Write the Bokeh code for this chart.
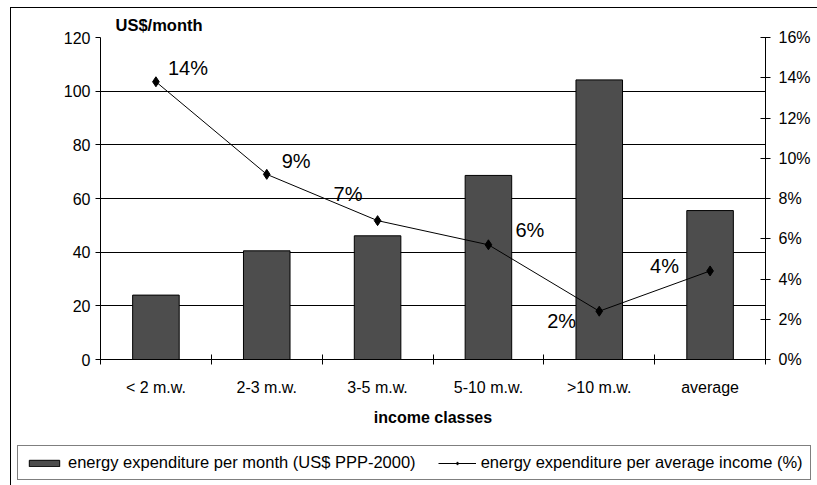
from bokeh.plotting import figure
from bokeh.layouts import column
from bokeh.models import (Range1d, LinearAxis, FixedTicker, ColumnDataSource, LabelSet,
                          Legend, LegendItem, PrintfTickFormatter)
from bokeh.core.properties import value
from bokeh.embed import file_html
from bokeh.resources import INLINE

categories = ["< 2 m.w.", "2-3 m.w.", "3-5 m.w.", "5-10 m.w.", ">10 m.w.", "average"]
expenditure = [24.0, 40.5, 46.1, 68.6, 104.2, 55.5]
share_pct = [13.8, 9.2, 6.9, 5.7, 2.4, 4.4]
share_labels = ["14%", "9%", "7%", "6%", "2%", "4%"]
series_names = ["energy expenditure per month (US$ PPP-2000)",
                "energy expenditure per average income (%)"]

# label offsets (style, px)
lab_dx = [12, 15, -44, 27, -52, -60]
lab_dy = [14, 13, 27, 15, -10, 5]

FONT = "Liberation Sans"
BAR_FILL = "#4d4d4d"
x = [i + 0.5 for i in range(len(categories))]

p = figure(frame_width=664, frame_height=321, output_backend="svg", toolbar_location=None,
           x_range=Range1d(0, len(categories)), y_range=Range1d(0, 120),
           min_border_left=89, min_border_right=53, min_border_top=29, min_border_bottom=82)
p.frame_align = False
p.styles = {"margin-left": "10px", "margin-top": "7px",
            "border-left": "1px solid black", "border-top": "1px solid black"}
p.outline_line_color = None
p.background_fill_color = "white"
p.border_fill_color = "white"

p.title.text = "US$/month"
p.title.text_font = FONT
p.title.text_font_size = "16.5px"
p.title.text_font_style = "bold"
p.title.text_color = "black"
p.title.offset = 15
p.title.standoff = 7

p.extra_y_ranges = {"pct": Range1d(0, 16)}

p.vbar(x=x, top=expenditure, width=0.42, fill_color=BAR_FILL, line_color="black", line_width=1)
p.line(x=x, y=share_pct, y_range_name="pct", line_color="black", line_width=1)
p.scatter(x=x, y=share_pct, y_range_name="pct", marker="diamond", size=10,
          fill_color="black", line_color="black")

src = ColumnDataSource(dict(x=x, y=share_pct, t=share_labels, dx=lab_dx, dy=lab_dy))
p.add_layout(LabelSet(x="x", y="y", text="t", source=src, y_range_name="pct",
                      x_offset="dx", y_offset="dy", text_font=value(FONT), text_font_size="20px",
                      text_baseline="middle", text_align="left", text_color="black"))

# grid
p.xgrid.grid_line_color = None
p.ygrid.grid_line_color = "black"
p.ygrid.grid_line_width = 1
p.ygrid.ticker = FixedTicker(ticks=list(range(0, 121, 20)))

# left axis
ya = p.yaxis[0]
ya.ticker = FixedTicker(ticks=list(range(0, 121, 20)))
ya.minor_tick_line_color = None
ya.major_tick_in = 0
ya.major_tick_out = 5
ya.axis_line_color = "black"
ya.major_label_text_font = FONT
ya.major_label_text_font_size = "16px"
ya.major_label_text_color = "black"
ya.major_label_standoff = 5

# right axis
ra = LinearAxis(y_range_name="pct", ticker=FixedTicker(ticks=list(range(0, 17, 2))),
                formatter=PrintfTickFormatter(format="%d%%"))
ra.minor_tick_line_color = None
ra.major_tick_in = 5
ra.major_tick_out = 5
ra.major_label_text_font = FONT
ra.major_label_text_font_size = "16px"
ra.major_label_text_color = "black"
ra.major_label_standoff = 8
p.add_layout(ra, "right")

# x axis
xa = p.xaxis[0]
xa.ticker = FixedTicker(ticks=x, minor_ticks=list(range(0, len(categories) + 1)))
xa.major_label_overrides = {xx: c for xx, c in zip(x, categories)}
xa.major_tick_line_color = None
xa.major_tick_in = 0
xa.major_tick_out = 5
xa.minor_tick_in = 5
xa.minor_tick_out = 5
xa.minor_tick_line_color = "black"
xa.major_label_text_font = FONT
xa.major_label_text_font_size = "16px"
xa.major_label_text_color = "black"
xa.major_label_standoff = 14
xa.axis_label = "income classes"
xa.axis_label_text_font = FONT
xa.axis_label_text_font_size = "16px"
xa.axis_label_text_font_style = "bold"
xa.axis_label_text_color = "black"
xa.axis_label_standoff = 10

# legend strip (separate canvas so the legend can extend beyond the plot frame)
q = figure(width=806, height=45, output_backend="svg", toolbar_location=None,
           x_range=Range1d(1000, 1001), y_range=Range1d(1000, 1001),
           x_axis_location=None, y_axis_location=None,
           min_border_left=0, min_border_right=0, min_border_top=0, min_border_bottom=0)
q.frame_align = False
q.styles = {"margin-left": "10px", "border-left": "1px solid black"}
q.outline_line_color = None
q.grid.grid_line_color = None
q.background_fill_color = "white"
q.border_fill_color = "white"
lb = q.vbar(x=x, top=expenditure, width=0.42, fill_color=BAR_FILL, line_color="black", line_width=1)
ll = q.line(x=x, y=share_pct, line_color="black", line_width=1)
lp = q.scatter(x=x, y=share_pct, marker="diamond", size=10, fill_color="black", line_color="black")

legend = Legend(items=[LegendItem(label=series_names[0], renderers=[lb]),
                       LegendItem(label=series_names[1], renderers=[ll, lp])],
                orientation="horizontal", location=(6, 5),
                label_text_font=FONT, label_text_font_size="16.5px", label_text_color="black",
                border_line_color="black", border_line_width=1, glyph_width=38, glyph_height=8,
                padding=7, spacing=22, label_standoff=5, margin=0, label_height=12)
q.add_layout(legend, "center")

layout = column(p, q, spacing=0)
open("out.html", "w").write(file_html(layout, INLINE))
